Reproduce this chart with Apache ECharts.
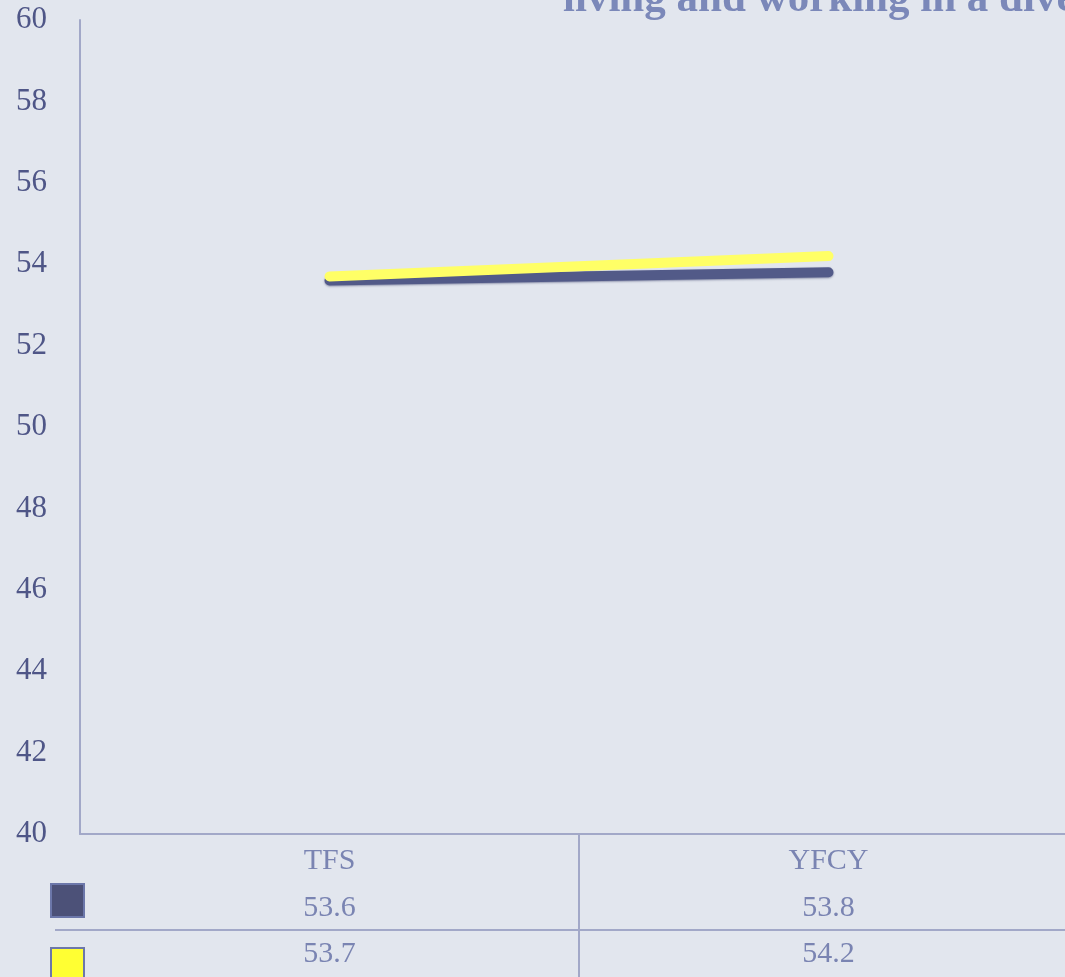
<!DOCTYPE html>
<html>
<head>
<meta charset="utf-8">
<script src="https://cdn.jsdelivr.net/npm/echarts@6/dist/echarts.min.js"></script>
<style>html,body{margin:0;padding:0;background:#e2e6ee;overflow:hidden;width:1065px;height:977px;}#c{width:1080px;height:977px;}</style>
</head>
<body>
<div id="c"></div>
<script>
const categories = ['TFS', 'YFCY'];
const seriesNames = ['Series A', 'Series B'];
const seriesA = [53.6, 53.8];
const seriesB = [53.7, 54.2];
const titleText = 'living and working in a diverse society';

const FONT = 'Liberation Serif';
const AXIS_COLOR = '#a2a8c8';
const legendCommon = {
  orient: 'vertical', left: 50, itemWidth: 33, itemHeight: 33,
  icon: 'rect', formatter: () => '', selectedMode: false,
  itemStyle: {borderColor: '#6c77aa', borderWidth: 2}, padding: 0
};
const chart = echarts.init(document.getElementById('c'));
chart.setOption({
  backgroundColor: '#e2e6ee',
  animation: false,
  title: {
    text: titleText, left: 558, top: -27,
    textStyle: {fontFamily: FONT, fontSize: 43, fontWeight: 'bold', color: '#7b88b9'}
  },
  legend: [
    Object.assign({}, legendCommon, {top: 883, data: [seriesNames[0]]}),
    Object.assign({}, legendCommon, {top: 947, data: [seriesNames[1]]})
  ],
  grid: {left: 80, top: 20, bottom: 143, right: 2, containLabel: false},
  xAxis: [
    {
      type: 'category', data: categories, position: 'bottom',
      axisLine: {show: true, lineStyle: {color: AXIS_COLOR, width: 2}},
      axisTick: {show: false},
      axisLabel: {margin: 12, fontFamily: FONT, fontSize: 30, color: '#7a84b2'}
    },
    {
      type: 'category', data: categories, position: 'bottom', offset: 47,
      axisLine: {show: false}, axisTick: {show: false},
      axisLabel: {margin: 12, fontFamily: FONT, fontSize: 30, color: '#7a84b2', formatter: (v, i) => String(seriesA[i])}
    },
    {
      type: 'category', data: categories, position: 'bottom', offset: 93,
      axisLine: {show: false}, axisTick: {show: false},
      axisLabel: {margin: 12, fontFamily: FONT, fontSize: 30, color: '#7a84b2', formatter: (v, i) => String(seriesB[i])}
    }
  ],
  yAxis: {
    type: 'value', min: 40, max: 60, interval: 2,
    axisLine: {show: true, lineStyle: {color: AXIS_COLOR, width: 2}},
    axisTick: {show: false}, splitLine: {show: false},
    axisLabel: {margin: 33, fontFamily: FONT, fontSize: 31, color: '#4f5687'}
  },
  series: [
    {
      name: seriesNames[0], type: 'line', data: seriesA, showSymbol: false, symbol: 'none',
      color: '#4c5178',
      lineStyle: {width: 10, cap: 'round', color: '#525a88', shadowColor: 'rgba(60,65,110,0.5)', shadowBlur: 2, shadowOffsetY: 1},
      itemStyle: {color: '#4c5178'}, z: 2
    },
    {
      name: seriesNames[1], type: 'line', data: seriesB, showSymbol: false, symbol: 'none',
      color: '#ffff33',
      lineStyle: {width: 10, cap: 'round', color: '#ffff66'},
      itemStyle: {color: '#ffff33'}, z: 3
    }
  ]
});
const p0 = chart.convertToPixel({xAxisIndex: 0}, categories[0]);
const p1 = chart.convertToPixel({xAxisIndex: 0}, categories[1]);
const midX = Math.round((p0 + p1) / 2);
const axisY = chart.convertToPixel({yAxisIndex: 0}, 40);
chart.setOption({
  graphic: [
    {type: 'line', shape: {x1: 55, y1: 930, x2: 1080, y2: 930}, style: {stroke: AXIS_COLOR, lineWidth: 2}, silent: true},
    {type: 'line', shape: {x1: midX, y1: axisY, x2: midX, y2: 977}, style: {stroke: AXIS_COLOR, lineWidth: 2}, silent: true}
  ]
});
</script>
</body>
</html>
